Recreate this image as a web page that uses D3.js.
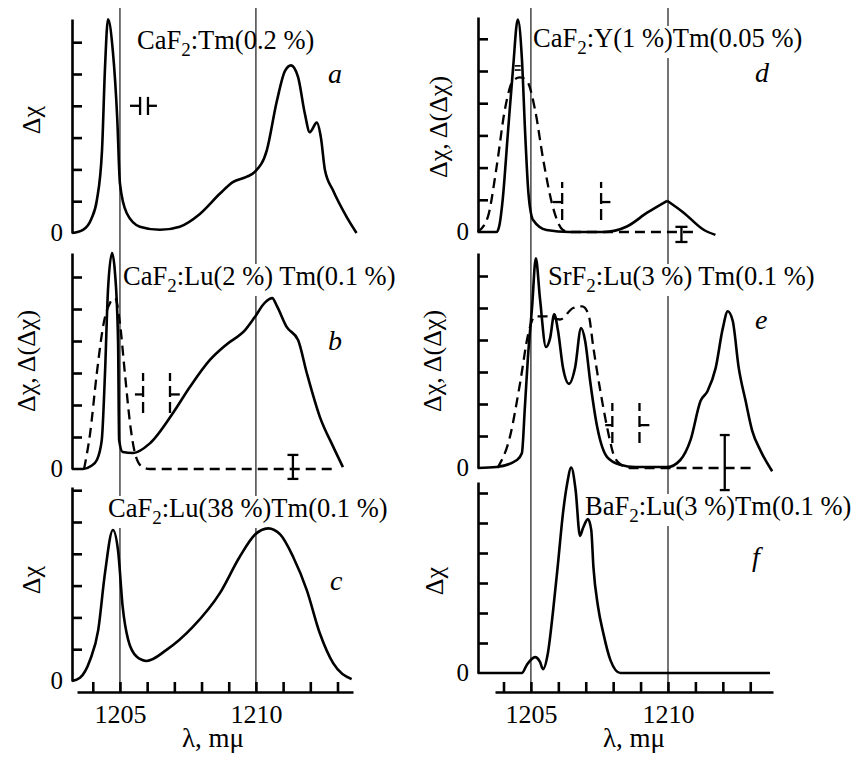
<!DOCTYPE html>
<html>
<head>
<meta charset="utf-8">
<script src="https://cdn.jsdelivr.net/npm/d3@7"></script>
<style>
  html, body { margin: 0; padding: 0; background: #fff; }
  svg { display: block; }
  text { font-family: "Liberation Serif", "Times New Roman", serif; fill: #000; }
</style>
</head>
<body>
<script>
// ---- data: wavelength (mμ) and signal (in axis-tick units) ----
const xTicks = [1204, 1205, 1206, 1207, 1208, 1209, 1210, 1211, 1212, 1213];
const xTickLabels = [1205, 1210];
const refLines = [1205, 1210];
const yTicks = [1, 2, 3, 4, 5, 6];

const aSolid = [[1203.24,0],[1203.64,0.1],[1203.95,0.45],[1204.15,1.03],[1204.34,2.6],[1204.45,5.2],[1204.56,6.72],[1204.74,5.7],[1204.9,3.6],[1205.0,1.55],[1205.25,0.62],[1205.73,0.2],[1206.47,0.1],[1207.2,0.2],[1207.94,0.6],[1208.68,1.24],[1209.15,1.6],[1209.67,1.77],[1209.96,1.92],[1210.4,2.6],[1210.77,4.15],[1211.07,5.1],[1211.29,5.27],[1211.55,4.9],[1211.8,3.75],[1211.98,3.17],[1212.24,3.47],[1212.39,3.0],[1212.54,1.97],[1212.83,1.35],[1213.34,0.5],[1213.7,0]];

const bSolid = [[1203.24,0],[1203.64,0],[1203.95,0.1],[1204.15,0.28],[1204.33,0.9],[1204.45,3.0],[1204.56,5.6],[1204.71,6.75],[1204.82,6.1],[1204.93,4.0],[1204.97,0.9],[1205.1,0.53],[1205.48,0.5],[1206.1,0.8],[1206.95,1.75],[1207.57,2.56],[1208.3,3.4],[1208.93,3.9],[1209.6,4.34],[1209.96,4.75],[1210.33,5.2],[1210.6,5.34],[1210.77,5.1],[1211.13,4.44],[1211.55,4.03],[1211.87,3.0],[1212.35,1.63],[1212.84,0.7],[1213.2,0.06]];
const bDash = [[1203.68,0],[1203.9,1.1],[1204.15,3.0],[1204.4,4.55],[1204.64,5.2],[1204.82,5.34],[1205.0,4.55],[1205.18,3.0],[1205.37,1.43],[1205.55,0.5],[1205.8,0.08],[1206.1,0],[1212.84,0]];

const cSolid = [[1203.24,0],[1203.53,0.1],[1203.9,0.66],[1204.2,1.6],[1204.45,3.4],[1204.74,4.75],[1204.93,4.1],[1205.1,2.33],[1205.3,1.3],[1205.62,0.76],[1205.98,0.63],[1206.7,0.97],[1207.68,1.7],[1208.68,2.77],[1209.4,3.9],[1209.96,4.6],[1210.45,4.8],[1210.9,4.6],[1211.37,3.9],[1211.87,2.86],[1212.35,1.5],[1212.84,0.56],[1213.52,0.06]];

// panel d solid trace: left part up to the cusp at 1210, then the right wing
const dSolid = [[1203.06,0],[1203.75,0],[1203.86,0.25],[1203.97,1.0],[1204.16,3.07],[1204.35,5.1],[1204.52,6.6],[1204.67,5.4],[1204.79,3.07],[1204.91,1.2],[1205.08,0.37],[1205.57,0.06],[1206.4,0],[1207.65,0],[1208.5,0.17],[1209.24,0.6],[1209.97,0.97]];
const dSolidWing = [[1209.97,0.97],[1210.57,0.6],[1211.3,0.07],[1211.73,-0.09]];
const dDash = [[1203.06,0],[1203.43,0.47],[1203.75,2.03],[1204.05,3.8],[1204.35,4.7],[1204.6,4.8],[1204.85,4.7],[1205.15,3.8],[1205.45,2.24],[1205.8,0.78],[1206.17,0.06],[1206.4,0],[1211.07,0]];

const eSolid = [[1203.06,0],[1203.75,0.03],[1204.49,0.25],[1204.67,0.46],[1204.78,1.9],[1204.89,3.44],[1205.04,5.0],[1205.18,6.55],[1205.33,5.3],[1205.55,3.78],[1205.7,4.06],[1205.85,4.8],[1205.99,4.28],[1206.17,3.13],[1206.39,2.63],[1206.61,3.13],[1206.83,4.37],[1206.98,3.96],[1207.16,2.72],[1207.42,1.27],[1207.78,0.34],[1208.26,0.1],[1208.8,0.03],[1209.98,0.03],[1210.45,0.25],[1210.82,0.87],[1211.19,2.1],[1211.44,2.4],[1211.74,3.13],[1212.0,4.37],[1212.18,4.9],[1212.36,4.6],[1212.58,3.13],[1212.83,2.1],[1213.07,1.17],[1213.37,0.55],[1213.8,-0.1]];
const eDash = [[1203.78,0],[1204.23,0.96],[1204.6,2.63],[1204.9,4.18],[1205.15,4.74],[1205.57,4.74],[1206.06,4.64],[1206.54,5.0],[1206.87,5.05],[1207.1,4.8],[1207.28,3.75],[1207.53,2.42],[1207.78,1.27],[1208.0,0.46],[1208.26,0.12],[1208.6,0],[1213.2,0]];

const fSolid = [[1203.06,0],[1204.67,0],[1204.85,0.27],[1205.15,0.53],[1205.33,0.37],[1205.44,0.13],[1205.62,0.67],[1205.8,2.0],[1205.99,3.67],[1206.17,5.33],[1206.32,6.3],[1206.47,6.85],[1206.63,6.1],[1206.79,4.57],[1206.9,4.83],[1207.08,5.13],[1207.2,4.77],[1207.28,3.53],[1207.45,2.2],[1207.64,1.33],[1207.9,0.43],[1208.26,0],[1213.72,0]];

// resolution markers: [λ, low, high, mid, λ of the short horizontal stroke]
const bMarks = [[1205.85,1.75,3.0,2.33,1205.55],[1206.84,1.75,3.0,2.33,1207.2]];
const dMarks = [[1206.14,0.37,1.55,0.93,1205.8],[1207.56,0.37,1.55,0.93,1207.9]];
const eMarks = [[1207.97,0.78,2.03,1.34,1207.71],[1208.96,0.78,2.03,1.34,1209.32]];
// error bars: [λ, low, high, half-width in λ]
const bErr = [[1211.36,-0.31,0.44,0.2]];
const dErr = [[1210.49,-0.31,0.16,0.22]];
const eErr = [[1212.07,-0.69,1.03,0.18]];
// slit-width marker of panel a: λ of the four knots, [low, mid, high]
const aSlitL = [1205.37,1205.74,1206.03,1206.36];
const aSlitV = [3.71,4.0,4.28];
// small bar on the peak of panel d: [λ0, λ1, v0, v1]
const dPeakBar = [1204.41,1204.63,5.03,5.16];

const titles = {
  a: ["CaF", "2", ":Tm(0.2 %)"],
  b: ["CaF", "2", ":Lu(2 %) Tm(0.1 %)"],
  c: ["CaF", "2", ":Lu(38 %)Tm(0.1 %)"],
  d: ["CaF", "2", ":Y(1 %)Tm(0.05 %)"],
  e: ["SrF", "2", ":Lu(3 %) Tm(0.1 %)"],
  f: ["BaF", "2", ":Lu(3 %)Tm(0.1 %)"]
};
const yLabels = { a: "Δχ", b: "Δχ, Δ(Δχ)", c: "Δχ", d: "Δχ, Δ(Δχ)", e: "Δχ, Δ(Δχ)", f: "Δχ" };
const xLabel = "λ, mμ";

// ---- layout ----
const W = 858, H = 765;
const axisY = 692;
const cols = [
  { x: d3.scaleLinear().domain([1203.42, 1213.57]).range([77, 353]), yAxisX: 72, labelX: 213 },
  { x: d3.scaleLinear().domain([1203.69, 1213.83]).range([495, 773]), yAxisX: 478, labelX: 634 }
];
const panels = [
  { id: "a", col: 0, base: 233, unit: 31.8, top: 19, solid: [aSolid], title: [137, 49], letter: [328, 83], ylab: [40, 120] },
  { id: "b", col: 0, base: 469, unit: 32.0, top: 253, solid: [bSolid], dash: bDash, marks: bMarks, err: bErr, title: [123, 285], letter: [328, 350], ylab: [35, 361] },
  { id: "c", col: 0, base: 681, unit: 31.8, top: 487, solid: [cSolid], title: [108, 517], letter: [330, 590], ylab: [40, 580] },
  { id: "d", col: 1, base: 232, unit: 32.2, top: 17, solid: [dSolid, dSolidWing], dash: dDash, marks: dMarks, err: dErr, title: [533, 47], letter: [755, 82], ylab: [447, 127] },
  { id: "e", col: 1, base: 468, unit: 32.0, top: 253, solid: [eSolid], dash: eDash, marks: eMarks, err: eErr, title: [548, 285], letter: [755, 329], ylab: [441, 361] },
  { id: "f", col: 1, base: 673, unit: 30.0, top: 482, solid: [fSolid], title: [585, 515], letter: [752, 566], ylab: [443, 581] }
];

const LW = 2.6;
const svg = d3.select("body").append("svg").attr("width", W).attr("height", H);
svg.append("rect").attr("width", W).attr("height", H).attr("fill", "#fff");

const gRef = svg.append("g");
const gMask = svg.append("g");
const gPlot = svg.append("g");
const gText = svg.append("g");

// thin vertical reference lines at 1205 and 1210 through each column
cols.forEach(c => {
  gRef.selectAll(null).data(refLines).join("line")
    .attr("x1", d => c.x(d)).attr("x2", d => c.x(d))
    .attr("y1", 8).attr("y2", axisY)
    .attr("stroke", "#000").attr("stroke-width", 1.1);
});

// wavelength axes
cols.forEach(c => {
  const g = gPlot.append("g").attr("transform", `translate(0,${axisY})`)
    .call(d3.axisBottom(c.x).tickValues(xTicks).tickSizeInner(-10).tickSizeOuter(0)
      .tickPadding(13).tickFormat(d => xTickLabels.includes(d) ? d : ""));
  g.attr("font-family", null).attr("font-size", null);
  g.select(".domain").attr("stroke-width", LW);
  g.selectAll(".tick line").attr("stroke-width", LW);
  g.selectAll(".tick text").attr("font-size", 26);
  gText.append("text").attr("x", c.labelX).attr("y", 747).attr("text-anchor", "middle")
    .attr("font-size", 27).text(xLabel);
});

panels.forEach(p => {
  const c = cols[p.col];
  const x = c.x;
  const y = d3.scaleLinear().domain([0, (p.base - p.top) / p.unit]).range([p.base, p.top]);

  // signal axis
  const ga = gPlot.append("g").attr("transform", `translate(${c.yAxisX},0)`)
    .call(d3.axisRight(y).tickValues(yTicks).tickSizeInner(10).tickSizeOuter(0).tickFormat(""));
  ga.select(".domain").attr("stroke-width", LW);
  ga.selectAll(".tick line").attr("stroke-width", LW);
  gText.append("text").attr("x", c.yAxisX - 9).attr("y", y(0) + 8).attr("text-anchor", "end")
    .attr("font-size", 25).text("0");

  const line = d3.line().x(d => x(d[0])).y(d => y(d[1])).curve(d3.curveMonotoneX);
  if (p.dash) {
    gPlot.append("path").attr("d", line(p.dash)).attr("fill", "none").attr("stroke", "#000")
      .attr("stroke-width", 2.3).attr("stroke-dasharray", "10,6");
  }
  p.solid.forEach(s => {
    gPlot.append("path").attr("d", line(s)).attr("fill", "none").attr("stroke", "#000")
      .attr("stroke-width", LW).attr("stroke-linejoin", "round");
  });

  // resolution markers
  (p.marks || []).forEach(m => {
    gPlot.append("line").attr("x1", x(m[0])).attr("x2", x(m[0])).attr("y1", y(m[1])).attr("y2", y(m[2]))
      .attr("stroke", "#000").attr("stroke-width", 2.3).attr("stroke-dasharray", "11,5");
    gPlot.append("line").attr("x1", x(m[4])).attr("x2", x(m[0])).attr("y1", y(m[3])).attr("y2", y(m[3]))
      .attr("stroke", "#000").attr("stroke-width", 2.3);
  });
  (p.err || []).forEach(e => {
    const g = gPlot.append("g").attr("stroke", "#000").attr("stroke-width", 2.3);
    g.append("line").attr("x1", x(e[0])).attr("x2", x(e[0])).attr("y1", y(e[1])).attr("y2", y(e[2]));
    [e[1], e[2]].forEach(v => g.append("line").attr("x1", x(e[0] - e[3])).attr("x2", x(e[0] + e[3]))
      .attr("y1", y(v)).attr("y2", y(v)));
  });
  if (p.id === "a") {
    const g = gPlot.append("g").attr("stroke", "#000").attr("stroke-width", 2.3);
    g.append("line").attr("x1", x(aSlitL[0])).attr("x2", x(aSlitL[1])).attr("y1", y(aSlitV[1])).attr("y2", y(aSlitV[1]));
    g.append("line").attr("x1", x(aSlitL[1])).attr("x2", x(aSlitL[1])).attr("y1", y(aSlitV[0])).attr("y2", y(aSlitV[2]));
    g.append("line").attr("x1", x(aSlitL[2])).attr("x2", x(aSlitL[2])).attr("y1", y(aSlitV[0])).attr("y2", y(aSlitV[2]));
    g.append("line").attr("x1", x(aSlitL[2])).attr("x2", x(aSlitL[3])).attr("y1", y(aSlitV[1])).attr("y2", y(aSlitV[1]));
  }
  if (p.id === "d") {
    const g = gPlot.append("g").attr("stroke", "#000").attr("stroke-width", 1.6);
    [dPeakBar[2], dPeakBar[3]].forEach(v => g.append("line")
      .attr("x1", x(dPeakBar[0])).attr("x2", x(dPeakBar[1])).attr("y1", y(v)).attr("y2", y(v)));
  }

  // sample composition
  const t = gText.append("text").attr("x", p.title[0]).attr("y", p.title[1]).attr("font-size", 26.5);
  const parts = titles[p.id];
  t.append("tspan").text(parts[0]);
  t.append("tspan").attr("font-size", 19).attr("dy", 7).text(parts[1]);
  t.append("tspan").attr("dy", -7).text(parts[2]);
  const bb = t.node().getBBox();
  if (p.id !== "a") {
    gMask.append("rect").attr("x", bb.x).attr("y", bb.y + 3).attr("width", bb.width).attr("height", bb.height - 3)
      .attr("fill", "#fff");
  }

  // panel letter
  gText.append("text").attr("x", p.letter[0]).attr("y", p.letter[1]).attr("font-size", 28)
    .attr("font-style", "italic").text(p.id);

  // signal label
  gText.append("text").attr("transform", `translate(${p.ylab[0]},${p.ylab[1]}) rotate(-90)`)
    .attr("text-anchor", "middle").attr("font-size", 26).text(yLabels[p.id]);
});
</script>
</body>
</html>
